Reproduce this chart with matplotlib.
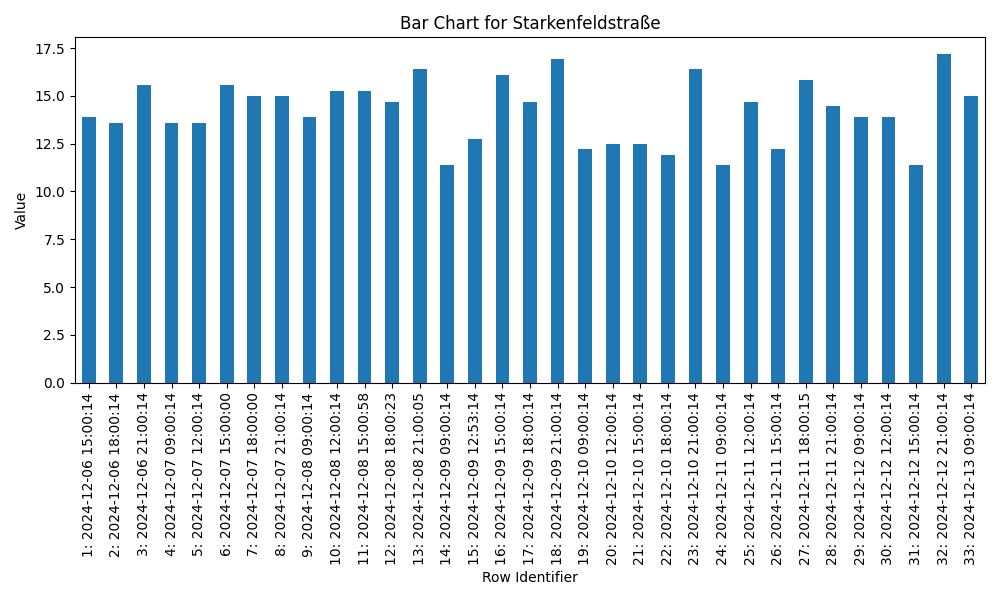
import matplotlib
matplotlib.use("Agg")
import matplotlib.pyplot as plt

timestamps = [
    "2024-12-06 15:00:14", "2024-12-06 18:00:14", "2024-12-06 21:00:14",
    "2024-12-07 09:00:14", "2024-12-07 12:00:14", "2024-12-07 15:00:00",
    "2024-12-07 18:00:00", "2024-12-07 21:00:14", "2024-12-08 09:00:14",
    "2024-12-08 12:00:14", "2024-12-08 15:00:58", "2024-12-08 18:00:23",
    "2024-12-08 21:00:05", "2024-12-09 09:00:14", "2024-12-09 12:53:14",
    "2024-12-09 15:00:14", "2024-12-09 18:00:14", "2024-12-09 21:00:14",
    "2024-12-10 09:00:14", "2024-12-10 12:00:14", "2024-12-10 15:00:14",
    "2024-12-10 18:00:14", "2024-12-10 21:00:14", "2024-12-11 09:00:14",
    "2024-12-11 12:00:14", "2024-12-11 15:00:14", "2024-12-11 18:00:15",
    "2024-12-11 21:00:14", "2024-12-12 09:00:14", "2024-12-12 12:00:14",
    "2024-12-12 15:00:14", "2024-12-12 21:00:14", "2024-12-13 09:00:14",
]
values = [
    13.9, 13.6, 15.55, 13.6, 13.6, 15.55, 15.0, 15.0, 13.9, 15.25, 15.25,
    14.7, 16.4, 11.4, 12.75, 16.1, 14.7, 16.95, 12.2, 12.5, 12.5, 11.9,
    16.4, 11.4, 14.7, 12.2, 15.85, 14.45, 13.9, 13.9, 11.4, 17.2, 15.0,
]
labels = [f"{i + 1}: {t}" for i, t in enumerate(timestamps)]

fig, ax = plt.subplots(figsize=(10, 6), dpi=100)
x = range(len(values))
ax.bar(x, values, width=0.5, color="#1f77b4")
ax.set_xticks(list(x))
ax.set_xticklabels(labels, rotation=90)
ax.set_xlim(-0.5, len(values) - 0.5)
ax.set_title("Bar Chart for Starkenfeldstraße")
ax.set_xlabel("Row Identifier")
ax.set_ylabel("Value")
fig.tight_layout()
fig.savefig("out.png")
